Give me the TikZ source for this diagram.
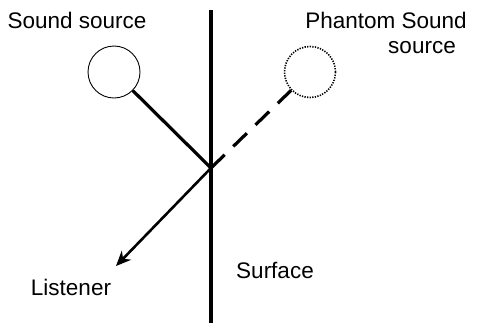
\documentclass[tikz,border=0pt]{standalone}
\usepackage{fontspec}
\setmainfont{Liberation Sans}
\usetikzlibrary{arrows.meta}
\begin{document}
\begin{tikzpicture}[x=1pt,y=-1pt,
  lbl/.style={font=\fontsize{22.5}{27}\selectfont, inner sep=0pt, align=center},
  src/.style={circle, draw, line width=0.9pt, minimum size=52pt, inner sep=0pt},
  phantom/.style={circle, draw, dash pattern=on 1.3pt off 1.3pt, line width=1.6pt, minimum size=51pt, inner sep=0pt},
  ray/.style={line width=3.2pt},
]
\useasboundingbox (0,0) rectangle (489,325);
\node[src] (s) at (114,72) {};
\node[phantom] (p) at (310,72) {};
\coordinate (top) at (211,10);
\coordinate (bot) at (211,323);
\coordinate (x) at (211,168);
\coordinate (l) at (116,266);
\draw[line width=3.8pt] (top) -- (bot);
\draw[ray] (s) -- (x);
\draw[ray, dash pattern=on 19pt off 12pt] (x) -- (p);
\draw[line width=2.6pt, -{Stealth[length=15pt,width=13pt]}] (x) -- (l);
\node[lbl] (t1) at (77,20) {Sound source};
\node[lbl] (t2) at (386,20) {Phantom Sound};
\node[lbl] (t2b) at (422,48) {source};
\node[lbl] (t3) at (71,287) {Listener};
\node[lbl] (t4) at (275,270) {Surface};
\end{tikzpicture}
\end{document}
